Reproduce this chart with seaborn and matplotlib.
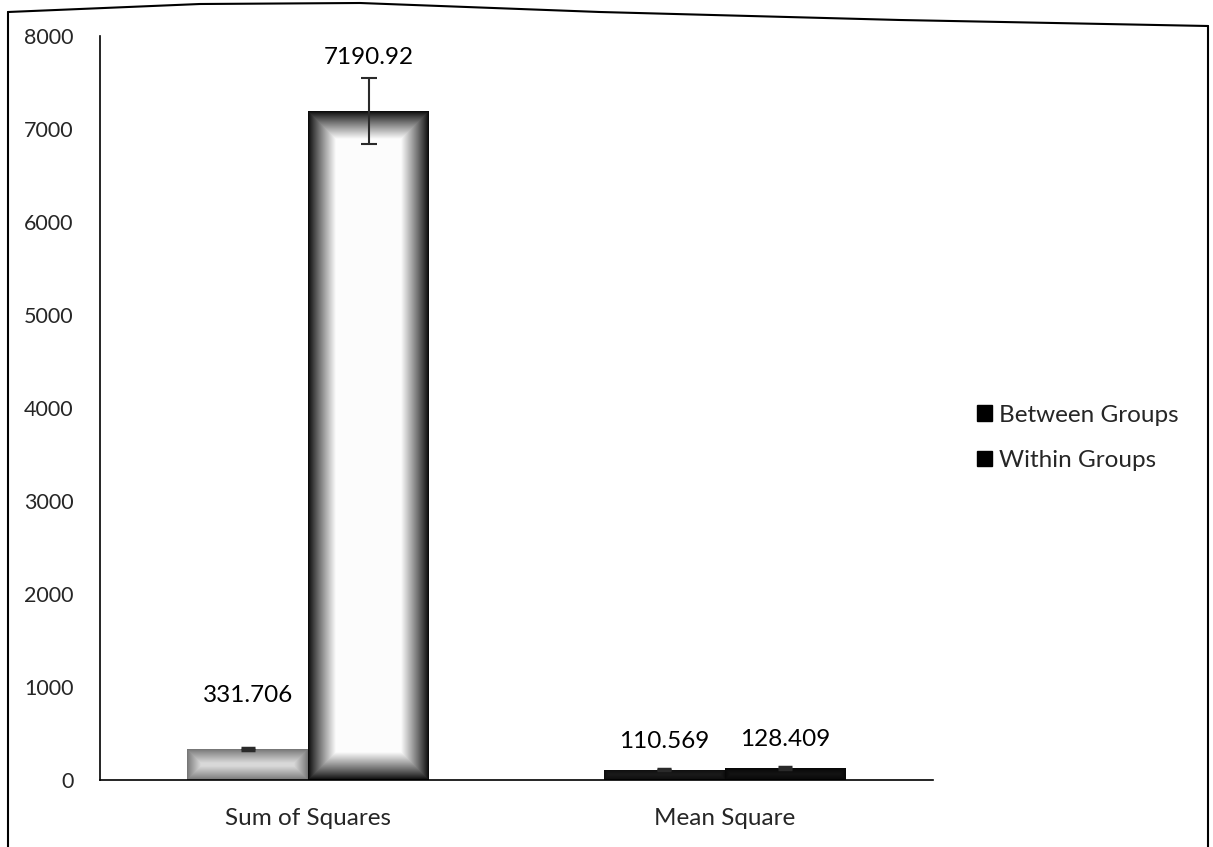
import numpy as np
import pandas as pd
import matplotlib
matplotlib.use("Agg")
import matplotlib.pyplot as plt
import seaborn as sns
from matplotlib.patches import Patch
from matplotlib.lines import Line2D

# ---- data ----
categories = ["Sum of Squares", "Mean Square"]
series = ["Between Groups", "Within Groups"]
between_values = [331.706, 110.569]
within_values = [7190.92, 128.409]
between_err = [12, 8]
within_err = [355, 8]
label_texts_between = ["331.706", "110.569"]
label_texts_within = ["7190.92", "128.409"]
y_ticks = [0, 1000, 2000, 3000, 4000, 5000, 6000, 7000, 8000]

df = pd.DataFrame({
    "category": categories * 2,
    "series": [series[0]] * 2 + [series[1]] * 2,
    "value": between_values + within_values,
    "err": between_err + within_err,
    "label": label_texts_between + label_texts_within,
})

sns.set_theme(style="white")
plt.rcParams["font.family"] = ["Lato", "DejaVu Sans"]

fig = plt.figure(figsize=(12.13, 8.47), dpi=100)
ax = fig.add_axes([100 / 1213, 67 / 847, 833 / 1213, 744 / 847])

sns.barplot(data=df, x="category", y="value", hue="series", order=categories,
            hue_order=series, palette=["#222222", "#111111"], width=0.58,
            errorbar=None, legend=False, ax=ax, saturation=1)

ax.set_xlim(-0.5, 1.5)
ax.set_ylim(0, 8000)
ax.set_yticks(y_ticks)
ax.set_yticklabels([str(t) for t in y_ticks], fontsize=15.5)
ax.set_xlabel("")
ax.set_ylabel("")
for s in ["top", "right"]:
    ax.spines[s].set_visible(False)
for s in ["left", "bottom"]:
    ax.spines[s].set_color("black")
    ax.spines[s].set_linewidth(1.2)

# category ticks at boundaries, labels at centers
ax.set_xticks([-0.5, 0.5, 1.5])
ax.set_xticklabels(["", "", ""])
ax.tick_params(axis="x", which="major", direction="out", length=9, width=1.2, color="black")
ax.set_xticks([0, 1], minor=True)
ax.set_xticklabels(categories, minor=True, fontsize=17.5)
ax.tick_params(axis="x", which="minor", length=0, pad=20)
ax.tick_params(axis="y", direction="out", length=7, width=1.2, color="black", pad=12)

fig.canvas.draw()

# bar gradient styles (edge gray, center gray, fade px) per (series, category)
styles = {
    (0, 0): (0.45, 0.85, 14),
    (1, 0): (0.02, 0.99, 28),
    (0, 1): (0.05, 0.15, 10),
    (1, 1): (0.03, 0.10, 10),
}

patches = [p for p in ax.patches if p.get_height() > 0]
patches.sort(key=lambda p: p.get_x())
for i, p in enumerate(patches):
    cat = i // 2
    ser = i % 2
    x0, w, h = p.get_x(), p.get_width(), p.get_height()
    (px0, py0) = ax.transData.transform((x0, 0))
    (px1, py1) = ax.transData.transform((x0 + w, h))
    W = max(int(round(px1 - px0)), 2)
    H = max(int(round(py1 - py0)), 2)
    yy, xx = np.mgrid[0:H, 0:W]
    d = np.minimum.reduce([xx + 0.5, W - xx - 0.5, yy + 0.5, H - yy - 0.5])
    e, c, f = styles[(ser, cat)]
    t = np.clip(d / f, 0, 1) ** 0.9
    g = e + (c - e) * t
    rgb = np.dstack([g, g, g])
    im = ax.imshow(rgb, extent=(x0, x0 + w, 0, h), aspect="auto",
                   interpolation="bilinear", zorder=2, origin="upper")
    im.set_clip_path(p)
    p.set_edgecolor("none")

    xc = x0 + w / 2
    row = df[(df["category"] == categories[cat]) & (df["series"] == series[ser])].iloc[0]
    big = cat == 0 and ser == 1
    ax.errorbar([xc], [row["value"]], yerr=[row["err"]], fmt="none",
                ecolor="#2a2a2a", elinewidth=1.5 if big else 1.0,
                capsize=6 if big else 5, capthick=1.5 if big else 2.5, zorder=4)
    offs = 31 if cat == 0 else 13
    ax.annotate(row["label"], (xc, row["value"]), xytext=(0, offs),
                textcoords="offset points", ha="center", va="bottom",
                fontsize=17.5, color="black", zorder=5)

ax.set_xlim(-0.5, 1.5)
ax.set_ylim(0, 8000)

# legend
handles = [Patch(facecolor="black", edgecolor="black", label=s) for s in series]
fig.legend(handles=handles, loc="center left", bbox_to_anchor=(955 / 1213, 1 - 438 / 847),
           frameon=False, fontsize=17.5, handlelength=0.62, handleheight=0.62,
           handletextpad=0.3, labelspacing=1.0)

# outer frame (scanned page border)
xs = np.array([8, 200, 360, 600, 900, 1208]) / 1213
ys = 1 - np.array([12, 4, 3, 12, 20, 26]) / 847
fig.add_artist(Line2D(xs, ys, transform=fig.transFigure, color="black", lw=1.5))
fig.add_artist(Line2D([8 / 1213, 8 / 1213], [ys[0], 0], transform=fig.transFigure, color="black", lw=1.5))
fig.add_artist(Line2D([1208 / 1213, 1208 / 1213], [ys[-1], 0], transform=fig.transFigure, color="black", lw=1.5))

fig.savefig("out.png", dpi=100, facecolor="white")
